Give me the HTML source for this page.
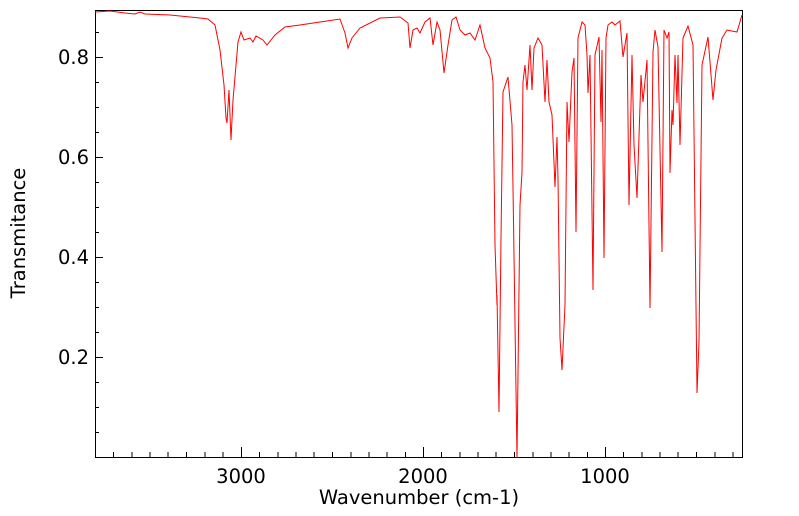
<!DOCTYPE html>
<html><head><style>body{margin:0;background:#fff}svg{display:block}text{font-family:"DejaVu Sans","Liberation Sans",sans-serif;font-size:19.5px}</style></head><body>
<svg width="799" height="516" xmlns="http://www.w3.org/2000/svg">
<rect x="95.5" y="10.5" width="647" height="447" fill="none" stroke="#000" stroke-width="1"/>
<g stroke="#000" stroke-width="1">
<line x1="95" y1="57.5" x2="103" y2="57.5"/><line x1="95" y1="157.5" x2="103" y2="157.5"/><line x1="95" y1="257.5" x2="103" y2="257.5"/><line x1="95" y1="357.5" x2="103" y2="357.5"/>
<line x1="95" y1="32.5" x2="99" y2="32.5"/><line x1="95" y1="82.5" x2="99" y2="82.5"/><line x1="95" y1="107.5" x2="99" y2="107.5"/><line x1="95" y1="132.5" x2="99" y2="132.5"/><line x1="95" y1="182.5" x2="99" y2="182.5"/><line x1="95" y1="207.5" x2="99" y2="207.5"/><line x1="95" y1="232.5" x2="99" y2="232.5"/><line x1="95" y1="282.5" x2="99" y2="282.5"/><line x1="95" y1="307.5" x2="99" y2="307.5"/><line x1="95" y1="332.5" x2="99" y2="332.5"/><line x1="95" y1="382.5" x2="99" y2="382.5"/><line x1="95" y1="407.5" x2="99" y2="407.5"/><line x1="95" y1="432.5" x2="99" y2="432.5"/>
<line x1="241.5" y1="457" x2="241.5" y2="447"/><line x1="423.5" y1="457" x2="423.5" y2="447"/><line x1="605.5" y1="457" x2="605.5" y2="447"/>
<line x1="113.5" y1="457" x2="113.5" y2="452"/><line x1="132" y1="457" x2="132" y2="452"/><line x1="150" y1="457" x2="150" y2="452"/><line x1="168" y1="457" x2="168" y2="452"/><line x1="186.5" y1="457" x2="186.5" y2="452"/><line x1="205" y1="457" x2="205" y2="452"/><line x1="223" y1="457" x2="223" y2="452"/><line x1="259.5" y1="457" x2="259.5" y2="452"/><line x1="278" y1="457" x2="278" y2="452"/><line x1="296" y1="457" x2="296" y2="452"/><line x1="314" y1="457" x2="314" y2="452"/><line x1="332.5" y1="457" x2="332.5" y2="452"/><line x1="351" y1="457" x2="351" y2="452"/><line x1="369" y1="457" x2="369" y2="452"/><line x1="387" y1="457" x2="387" y2="452"/><line x1="405.5" y1="457" x2="405.5" y2="452"/><line x1="441.5" y1="457" x2="441.5" y2="452"/><line x1="460" y1="457" x2="460" y2="452"/><line x1="478" y1="457" x2="478" y2="452"/><line x1="496" y1="457" x2="496" y2="452"/><line x1="514.5" y1="457" x2="514.5" y2="452"/><line x1="533" y1="457" x2="533" y2="452"/><line x1="551" y1="457" x2="551" y2="452"/><line x1="569" y1="457" x2="569" y2="452"/><line x1="587.5" y1="457" x2="587.5" y2="452"/><line x1="623.5" y1="457" x2="623.5" y2="452"/><line x1="642" y1="457" x2="642" y2="452"/><line x1="660" y1="457" x2="660" y2="452"/><line x1="678" y1="457" x2="678" y2="452"/><line x1="696.5" y1="457" x2="696.5" y2="452"/><line x1="715" y1="457" x2="715" y2="452"/><line x1="733" y1="457" x2="733" y2="452"/>
</g>
<g text-anchor="end"><text x="89" y="64">0.8</text><text x="89" y="164">0.6</text><text x="89" y="264">0.4</text><text x="89" y="364">0.2</text></g>
<g text-anchor="middle"><text x="241" y="483">3000</text><text x="423" y="483">2000</text><text x="605" y="483">1000</text><text x="419" y="504">Wavenumber (cm-1)</text>
<text transform="translate(25,233) rotate(-90)">Transmitance</text></g>
<polyline fill="none" stroke="#f00" stroke-width="1" points="95,12 110,11 125,13 135,14 140,12 145,14 170,15 190,17 200,18 208,19 215,25 220,50 224,85 226,118 227,123 229,90 231,140 233,100 238,42 241,32 244,40 250,38 253,42 256,36 263,40 267,45 275,35 285,27 300,25 320,22 340,19 345,33 348,48 352,38 360,28 380,18 400,17 408,23 410,48 413,30 417,28 420,33 425,22 430,18 433,45 437,22 440,30 444,73 448,45 452,20 456,17 460,30 465,35 470,33 475,40 480,25 485,48 490,58 493,82 495,245 497,305 497,295 499,412 501,238 503,92 508,77 512,125 513,188 517,458 520,205 522,172 523,82 525,65 527,90 530,45 532,90 534,48 538,38 542,45 545,102 547,60 549,102 552,115 555,187 557,137 558,178 560,338 562,370 565,305 567,102 569,142 572,72 574,58 576,232 578,38 582,22 585,25 587,55 588,93 590,55 593,290 595,55 599,37 601,122 602,50 604,258 606,38 608,25 612,22 615,25 620,21 623,57 627,33 629,205 632,55 634,145 637,198 641,75 643,102 647,60 650,308 653,52 655,30 658,47 662,252 664,30 667,38 669,32 670,173 672,110 673,125 675,55 677,103 678,55 680,145 683,38 688,26 693,45 697,393 699,342 702,65 708,37 713,100 716,70 722,38 727,30 737,32 742,15"/>
</svg>
</body></html>
